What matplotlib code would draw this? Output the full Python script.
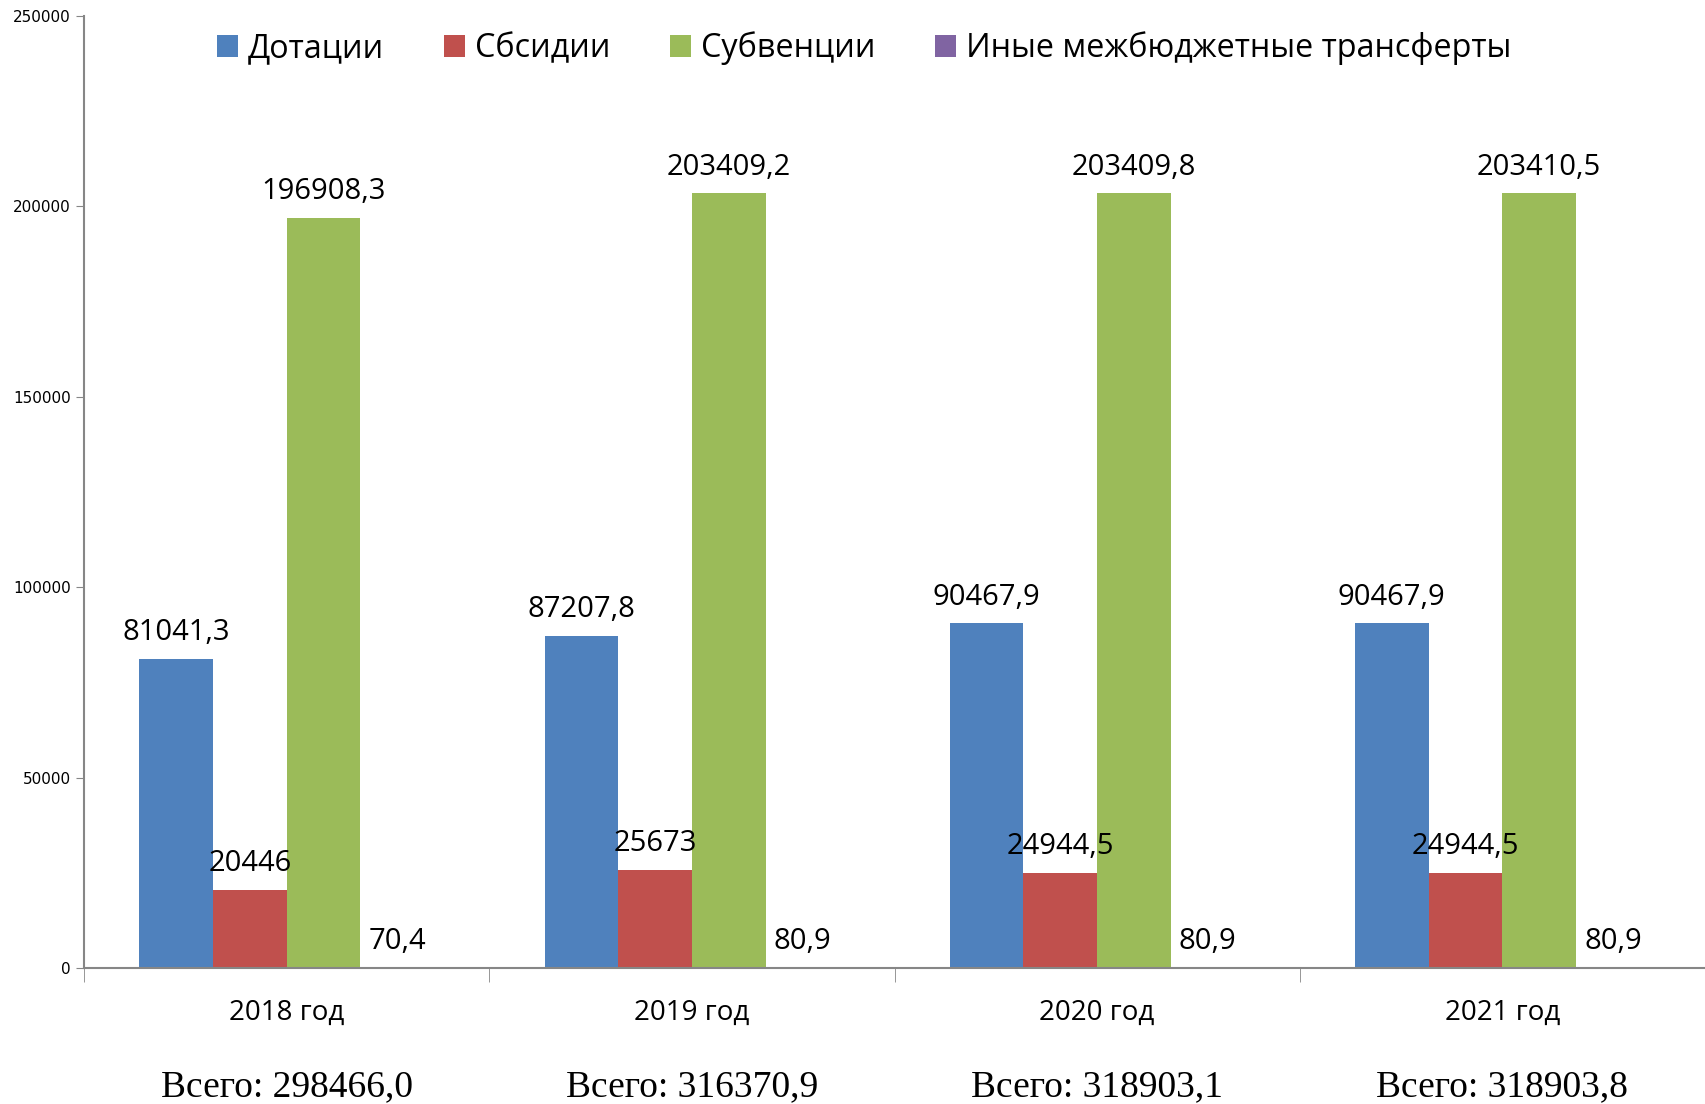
import numpy as np
import matplotlib.pyplot as plt
from matplotlib.transforms import blended_transform_factory
from matplotlib.ticker import FixedLocator, NullFormatter

years = ["2018 год", "2019 год", "2020 год", "2021 год"]
totals = ["Всего: 298466,0", "Всего: 316370,9", "Всего: 318903,1", "Всего: 318903,8"]
series_names = ["Дотации", "Сбсидии", "Субвенции", "Иные межбюджетные трансферты"]
dotacii = [81041.3, 87207.8, 90467.9, 90467.9]
subsidii = [20446, 25673, 24944.5, 24944.5]
subvencii = [196908.3, 203409.2, 203409.8, 203410.5]
inye = [70.4, 80.9, 80.9, 80.9]
colors = ["#4F81BD", "#C0504D", "#9BBB59", "#8064A2"]

def fmt(v):
    s = ("%.1f" % v).replace(".", ",")
    if s.endswith(",0"):
        s = s[:-2]
    return s

fig = plt.figure(figsize=(17.05, 11.04), dpi=100)
ax = fig.add_axes([0.0493, 0.1232, 0.9507, 0.8623])

x = np.arange(len(years))
w = 1 / 5.5
data = [dotacii, subsidii, subvencii, inye]
handles = []
for i, vals in enumerate(data):
    pos = x + (i - 1.5) * w
    b = ax.bar(pos, vals, width=w, color=colors[i], label=series_names[i])
    handles.append(b)
    for px, v in zip(pos, vals):
        ax.annotate(fmt(v), (px, v), xytext=(0, 19), textcoords="offset points",
                    ha="center", va="center", fontsize=21, family="Open Sans")

ax.set_xlim(-0.5, 3.5)
ax.set_ylim(0, 250000)
ax.set_yticks(np.arange(0, 250001, 50000))
ax.tick_params(axis="y", labelsize=11, length=6, color="#868686", direction="out")

ax.set_xticks(x)
ax.set_xticklabels(years, fontsize=20, family="Open Sans")
ax.tick_params(axis="x", length=0, pad=22)
ax.xaxis.set_minor_locator(FixedLocator(np.arange(-0.5, 3.6, 1)))
ax.xaxis.set_minor_formatter(NullFormatter())
ax.tick_params(axis="x", which="minor", length=10, color="#868686", direction="out")

for s in ["top", "right"]:
    ax.spines[s].set_visible(False)
for s in ["left", "bottom"]:
    ax.spines[s].set_color("#868686")
    ax.spines[s].set_linewidth(1.5)

# totals under the category labels
tr = blended_transform_factory(ax.transData, fig.transFigure)
for xi, t in zip(x, totals):
    ax.text(xi, 1 - 1087 / 1104, t, transform=tr,
            ha="center", va="center", fontsize=27, family="Liberation Serif")

fig.legend(handles=handles, loc="center", bbox_to_anchor=(0.507, 0.956), ncol=4,
           frameon=False, prop={"family": "Open Sans", "size": 23.3},
           handlelength=0.65, handleheight=0.65, handletextpad=0.3, columnspacing=1.85)

fig.savefig("out.png", dpi=100)
